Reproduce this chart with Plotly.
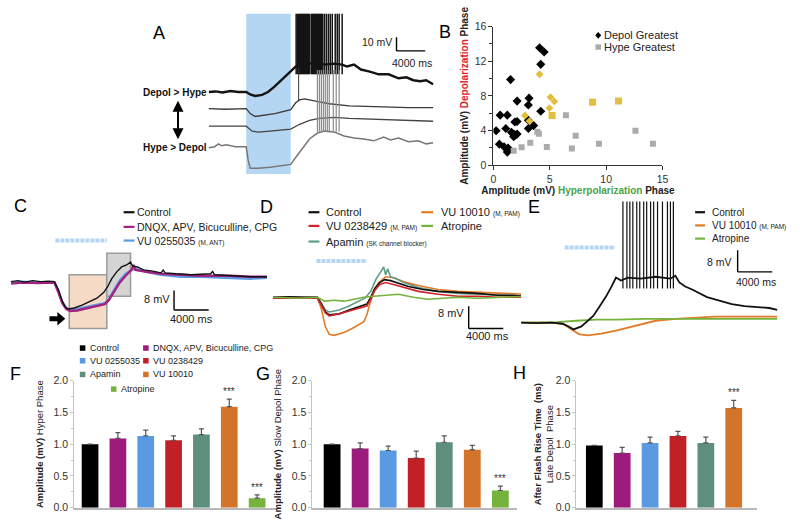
import plotly.graph_objects as go

W, H = 800, 530
FONT = "Liberation Sans, Arial, Helvetica, sans-serif"

# ======================= DATA =======================
# ---- Panel A: example recordings (time ms, mV relative to resting level) ----
a_stim_on, a_stim_off = 5240, 11446
a1_t = [0, 965, 1930, 3034, 4137, 5240, 5792, 6481, 7447, 8274, 9101, 9929, 10756, 11446, 12135,
        13376, 14755, 16134, 17513, 18617, 19306, 20270, 21236, 22340, 23719, 25098, 26477, 27580,
        28546, 29512, 30340, 31300]
a1_v = [0, 0.4, -0.4, 0.7, 0, 0, -1.8, -2.9, -2.1, 0, 3.6, 7.9, 12.1, 15.7, 18.6, 20, 21.4, 20, 20.7,
        20, 18.6, 20, 16.4, 15, 12.9, 12.9, 10, 10.7, 8.6, 7.9, 8.6, 5.7]
a1_spikes = [12200, 12380, 12550, 12700, 12830, 12980, 13100, 13250, 13380, 13520, 13650, 13800,
             13930, 14100, 14340, 14480, 14620, 14760, 14900, 15040, 15170, 15300, 15450, 15600,
             15720, 15900, 16140, 16410, 16690, 16960, 17240, 17650, 17930, 18200, 18620]
a1_spike_base, a1_spike_peak = 13, 62

a2_t = [0, 2344, 5240, 5792, 6481, 7447, 9240, 11446, 12135, 12690, 13376, 14755, 16824, 19580,
        23720, 27860, 31300]
a2_v = [0, -0.4, 0, -3.6, -5.7, -5, -3.6, -0.7, 4.3, 6.4, 7.1, 5.7, 3.6, 2.1, 1.4, 0.7, 0.7]
a2_spikes = [12550]
a2_spike_base, a2_spike_peak = 6, 30

a3_t = [0, 5240, 6068, 6895, 8550, 11446, 12690, 14066, 15445, 17513, 19580, 23720, 27860, 31300]
a3_v = [0, 0, -3.6, -4.3, -3.6, -2.1, 1.4, 4.3, 5.7, 6.4, 5.7, 5, 4.3, 3.6]

a4_t = [0, 827, 1379, 1793, 2482, 3723, 5240, 5516, 5792, 6895, 8550, 10618, 11446, 12135, 13100,
        14066, 15170, 16134, 17513, 18892, 20270, 21650, 23030, 24410, 25370, 26477, 27856, 29235,
        30340, 31300]
a4_v = [-0.7, 0, 2.1, 0.7, 1.4, 0, 0, -10, -15.7, -15.7, -15, -13.6, -12.9, -7.9, -0.7, 5.7, 10,
        11.4, 10.7, 7.9, 6.4, 5.7, 4.3, 7.1, 5, 6.4, 3.6, 4.3, 2.1, 2.9]
a4_spikes = [15170, 15450, 15720, 16000, 16270, 16550, 16820, 17380, 17790, 18200]
a4_spike_base, a4_spike_peak = 11, 56

# ---- Panel B: amplitudes (mV) ----
b_depol_x = [4.1, 4.5, 4.2, 1.52, 3.16, 2.1, 3.1, 4.2, 0.6, 1.23, 3.1, 1.9, 2.1, 3.57, 3.1, 1.1,
             0.24, 1.6, 1.8, 2.1, 1.8, 1.9, 0.53, 0.94, 1.3, 1.4, 1.23]
b_depol_y = [13.55, 13.07, 11.64, 9.88, 7.74, 7.4, 6.95, 6.23, 5.78, 5.78, 5.2, 5.0, 5.05, 4.58,
             4.24, 4.24, 3.98, 3.8, 3.6, 3.6, 3.3, 3.5, 2.44, 2.14, 2.0, 1.8, 1.52]
b_depol_gold_x = [4.1, 5.06, 5.4, 4.97, 2.8, 3.2]
b_depol_gold_y = [10.5, 7.85, 7.36, 6.6, 5.74, 5.1]
b_hype_x = [6.43, 3.9, 4.03, 7.3, 12.6, 3.27, 2.5, 4.74, 6.96, 9.36, 14.15, 1.8]
b_hype_y = [5.78, 3.87, 3.64, 3.42, 3.98, 2.6, 2.07, 2.1, 1.95, 2.48, 2.48, 1.69]
b_hype_gold_x = [5.2, 8.8, 11.1]
b_hype_gold_y = [5.74, 7.28, 7.4]
b_series = ["Depol Greatest", "Hype Greatest"]

# ---- Panel C ----
c_stim = [5140, 11090]
c_ctrl_t = [0, 800, 1600, 2515, 3430, 4343, 5030, 5490, 5944, 6290, 6630, 7315, 8230, 9144, 9944,
            10744, 11200, 11660, 12230, 12800, 13370, 13830, 14060, 14630, 15320, 16230, 17370,
            17600, 17830, 19090, 20800, 23090, 23320, 23550, 25375, 27660, 29600]
c_ctrl_v = [0, 0.4, -0.2, 0.4, 0, 0.2, 0, -3.2, -8, -10.4, -11.2, -10.8, -9.6, -8, -6.8, -4.4, -2,
            1.2, 4, 6, 6.8, 8, 6.4, 6, 4.8, 4.4, 3.6, 4.8, 3.6, 3.2, 2.8, 3.2, 4.2, 2.8, 2.4, 2, 2]
c_dnqx_t = [0, 1370, 3090, 5030, 5490, 5944, 6400, 6860, 7660, 8800, 9944, 10860, 11315, 11890,
            12570, 13260, 13945, 14170, 14400, 15660, 17370, 19660, 21945, 25375, 27660, 29600]
c_dnqx_v = [-0.8, -0.4, -0.6, -0.4, -4.4, -8.8, -11.2, -12, -11.8, -10.8, -10, -9.2, -7.6, -4.4,
            -0.4, 2.4, 4.8, 6.8, 4.8, 4, 3.2, 2.8, 2.4, 2.4, 2, 2]
c_vu0255_t = [0, 1370, 3090, 5030, 5490, 5944, 6400, 6860, 7660, 8800, 9944, 10860, 11315, 11890,
              12570, 13260, 13945, 14520, 15660, 17370, 19660, 21945, 25375, 27660, 29600]
c_vu0255_v = [-0.4, 0, -0.4, -0.4, -4, -8.4, -10.8, -11.6, -11.2, -10.4, -9.6, -8.8, -7.2, -3.6,
              0.4, 3.2, 4.8, 5.2, 4, 2.8, 2, 2, 1.6, 1.2, 1.6]
c_hyper_window = [6744, 11087]
c_depol_window = [11087, 13830]
c_names = ["Control", "DNQX, APV, Bicuculline, CPG", "VU 0255035"]

# ---- Panel D ----
d_stim = [5030, 10860]
d_ctrl_t = [0, 1943, 3660, 5140, 5600, 6060, 6515, 7660, 8800, 9944, 10860, 11315, 11770, 12345,
            12915, 13600, 14515, 15660, 17370, 19090, 21370, 23660, 25950, 27660, 29375]
d_ctrl_v = [0, 0.2, 0, 0, -2.45, -5.25, -6.3, -5.95, -4.55, -3.5, -2.45, 0, 3.15, 5.25, 6.3, 5.95,
            4.9, 3.85, 2.8, 2.1, 1.75, 1.4, 0.7, 0.7, 0.35]
d_vu0238_t = [0, 1943, 5140, 5600, 6060, 6515, 7660, 8800, 9944, 10860, 11315, 11770, 12345, 13030,
              13945, 15090, 16800, 19090, 21370, 23660, 25950, 29375]
d_vu0238_v = [-0.35, -0.35, -0.35, -2.8, -5.6, -6.65, -5.95, -4.9, -3.85, -3.15, -0.7, 2.45, 4.55,
              5.25, 4.55, 3.5, 2.1, 1.05, 0.35, 0.35, 0, 0]
d_apamin_t = [0, 5140, 5600, 6060, 6515, 7660, 8800, 9944, 10630, 11315, 11890, 12460, 12800, 13030,
              13260, 13600, 14290, 15090, 16800, 19090, 21370, 23660, 25950, 29375]
d_apamin_v = [0, 0, -2.1, -4.55, -5.25, -4.55, -3.15, -1.4, -0.35, 2.1, 6.3, 9.1, 10.85, 8.05, 10.15,
              7.35, 6.65, 5.25, 3.5, 2.1, 1.4, 1.05, 0.7, 0.35]
d_vu10010_t = [0, 5140, 5600, 6060, 6515, 7090, 8230, 9370, 10515, 10860, 11200, 11660, 12230,
               13030, 13945, 15090, 16800, 19090, 21370, 23660, 25950, 29375]
d_vu10010_v = [0, 0, -4.2, -10.5, -13.3, -13.65, -12.6, -10.85, -8.75, -6.3, -2.45, 2.1, 5.25, 7.35,
               7, 5.6, 4.2, 2.8, 2.1, 1.75, 1.4, 1.05]
d_atropine_t = [0, 3090, 5140, 5945, 7090, 8230, 9370, 10515, 11660, 13370, 14515, 16230, 17940,
                19660, 21370, 23660, 25950, 29375]
d_atropine_v = [0, -0.35, 0, -1.4, -1.05, -1.4, -0.7, 0, 0.35, 0.7, 1.05, 0, -0.7, -0.35, 0, -0.35,
                0, 0.35]

# ---- Panel E ----
e_stim = [5030, 10860]
e_ctrl_t = [0, 1830, 3540, 4800, 5490, 6060, 6970, 7770, 8340, 9030, 9830, 10400, 10970, 11540,
            12340, 13830, 15540, 17260, 17830, 18290, 18970, 19770, 20460, 21490, 22400, 24350,
            25830, 27540, 28690, 29600]
e_ctrl_v = [0, -0.2, 0, -0.4, -1.4, -2.5, -1.4, 0.7, 2.5, 5.8, 9.7, 13, 16.6, 15.5, 16.6, 16.2, 16.9,
            16.2, 17.3, 14.8, 13.3, 12.2, 11.2, 9.4, 8.6, 6.8, 6.1, 5.8, 5.4, 4.7]
e_spikes = [11770, 12230, 12570, 12915, 13370, 13715, 14170, 14515, 14970, 15320, 15770, 16340,
            16915, 17260, 17600]
e_spike_base, e_spike_peak = 12.6, 60
e_vu10010_t = [0, 3540, 4800, 5830, 6740, 7770, 9260, 10970, 13260, 15540, 17830, 20120, 22400,
               25830, 29600]
e_vu10010_v = [0, 0, -0.4, -2.5, -4.3, -4.7, -4, -2.9, -1.1, 0.7, 1.4, 1.8, 2.2, 2.2, 2.2]
e_atropine_t = [0, 4115, 6400, 8690, 10970, 14400, 17830, 22400, 25830, 29600]
e_atropine_v = [0, 0.2, 0.7, 1.1, 1.1, 1.4, 1.4, 1.4, 1.4, 1.4]

# ---- Panels F, G, H: normalised group data ----
groups = ["Control", "DNQX, APV, Bicuculline, CPG", "VU 0255035", "VU 0238429", "Apamin",
          "VU 10010", "Atropine"]
f_vals = [1.0, 1.09, 1.13, 1.06, 1.15, 1.59, 0.15]
f_err = [0, 0.09, 0.09, 0.07, 0.09, 0.12, 0.05]
f_sig = ["", "", "", "", "", "***", "***"]
g_vals = [1.0, 0.93, 0.90, 0.78, 1.03, 0.91, 0.27]
g_err = [0, 0.09, 0.07, 0.11, 0.10, 0.07, 0.07]
g_sig = ["", "", "", "", "", "", "***"]
h_vals = [0.98, 0.86, 1.02, 1.13, 1.02, 1.57]
h_err = [0, 0.09, 0.09, 0.07, 0.09, 0.12]
h_sig = ["", "", "", "", "", "***"]

# scale bar sizes
scale_ms = 4000
a_scale_mv = 10
cde_scale_mv = 8

# ======================= STYLE =======================
BLACK = "#111111"
MAG = "#A3227F"
BLUE = "#5B9BE6"
RED = "#D0222B"
TEAL = "#5F9A86"
ORANGE = "#E27B27"
GREEN = "#74B43C"
GOLD = "#E2BD3E"
GRAY = "#ABABAB"
STIM = "#B4D6F2"
bar_colors = ["#000000", "#9C1B7D", "#5A9AE3", "#C22027", "#5E8E7C", "#D4742B", "#74B43C"]


def X(px):
    return px / W


def Y(py):
    return 1 - py / H


def xdom(a, b):
    return [a / W, b / W]


def ydom(top, bot):
    return [1 - bot / H, 1 - top / H]


def spike_xy(times, base, peak, off=0):
    xs, ys = [], []
    for t in times:
        xs += [t, t, None]
        ys += [base + off, peak + off, None]
    return xs, ys


fig = go.Figure()


def line(x, y, color, width, xa, ya, name=None):
    fig.add_trace(go.Scatter(x=x, y=y, mode="lines", line=dict(color=color, width=width),
                             xaxis=xa, yaxis=ya, showlegend=False, name=name, hoverinfo="skip"))


# ---- A ----
a_off = [60, 47.8, 35, 20]
line(a1_t, [v + a_off[0] for v in a1_v], "#141414", 2.4, "x", "y", "Depol > Hype")
sx, sy = spike_xy(a1_spikes, a1_spike_base, a1_spike_peak, a_off[0])
line(sx, sy, "#141414", 1.5, "x", "y")
line(a2_t, [v + a_off[1] for v in a2_v], "#3a3a3a", 1.3, "x", "y")
sx, sy = spike_xy(a2_spikes, a2_spike_base, a2_spike_peak, a_off[1])
line(sx, sy, "#3a3a3a", 1.0, "x", "y")
line(a3_t, [v + a_off[2] for v in a3_v], "#444444", 1.3, "x", "y")
line(a4_t, [v + a_off[3] for v in a4_v], "#777777", 1.5, "x", "y", "Hype > Depol")
sx, sy = spike_xy(a4_spikes, a4_spike_base, a4_spike_peak, a_off[3])
line(sx, sy, "#8a8a8a", 1.2, "x", "y")

# ---- B ----
fig.add_trace(go.Scatter(x=b_depol_x, y=b_depol_y, mode="markers", name=b_series[0],
                         marker=dict(symbol="diamond", size=7, color="#000000"),
                         xaxis="x2", yaxis="y2", showlegend=False))
fig.add_trace(go.Scatter(x=b_hype_x, y=b_hype_y, mode="markers", name=b_series[1],
                         marker=dict(symbol="square", size=6, color=GRAY),
                         xaxis="x2", yaxis="y2", showlegend=False))
fig.add_trace(go.Scatter(x=b_depol_gold_x, y=b_depol_gold_y, mode="markers", name=b_series[0],
                         marker=dict(symbol="diamond", size=6, color=GOLD),
                         xaxis="x2", yaxis="y2", showlegend=False))
fig.add_trace(go.Scatter(x=b_hype_gold_x, y=b_hype_gold_y, mode="markers", name=b_series[1],
                         marker=dict(symbol="square", size=7, color=GOLD),
                         xaxis="x2", yaxis="y2", showlegend=False))

# ---- C ----
line(c_vu0255_t, c_vu0255_v, BLUE, 2.4, "x3", "y3", c_names[2])
line(c_dnqx_t, c_dnqx_v, MAG, 2.4, "x3", "y3", c_names[1])
line(c_ctrl_t, c_ctrl_v, BLACK, 1.4, "x3", "y3", c_names[0])

# ---- D ----
line(d_vu10010_t, d_vu10010_v, ORANGE, 1.6, "x4", "y4", "VU 10010")
line(d_apamin_t, d_apamin_v, TEAL, 1.6, "x4", "y4", "Apamin")
line(d_ctrl_t, d_ctrl_v, BLACK, 1.6, "x4", "y4", "Control")
line(d_vu0238_t, d_vu0238_v, RED, 1.6, "x4", "y4", "VU 0238429")
line(d_atropine_t, d_atropine_v, GREEN, 1.6, "x4", "y4", "Atropine")

# ---- E ----
line(e_vu10010_t, e_vu10010_v, ORANGE, 1.8, "x5", "y5", "VU 10010")
line(e_atropine_t, e_atropine_v, GREEN, 1.8, "x5", "y5", "Atropine")
line(e_ctrl_t, e_ctrl_v, BLACK, 1.8, "x5", "y5", "Control")
sx, sy = spike_xy(e_spikes, e_spike_base, e_spike_peak)
line(sx, sy, BLACK, 1.2, "x5", "y5")

# ---- F, G, H bars ----
annotations = []
for vals, errs, sig, xa, ya in [(f_vals, f_err, f_sig, "x6", "y6"),
                                (g_vals, g_err, g_sig, "x7", "y7"),
                                (h_vals, h_err, h_sig, "x8", "y8")]:
    for i in range(len(vals)):
        fig.add_trace(go.Bar(x=[i], y=[vals[i]], width=0.6, name=groups[i],
                             marker=dict(color=bar_colors[i], line=dict(width=0)),
                             error_y=dict(type="data", symmetric=False, array=[errs[i]],
                                          arrayminus=[0], color="#555555", thickness=1.2, width=2.5),
                             xaxis=xa, yaxis=ya, showlegend=False))
        if sig[i]:
            annotations.append(dict(x=i, y=vals[i] + errs[i], xref=xa, yref=ya, text=sig[i],
                                    showarrow=False, yanchor="bottom", font=dict(size=10, color="#333")))

# ======================= SHAPES & TEXT =======================
shapes = []
# A stim window
shapes.append(dict(type="rect", xref="x", yref="y domain", x0=a_stim_on, x1=a_stim_off, y0=0, y1=1,
                   fillcolor=STIM, line=dict(width=0), layer="below"))
# C analysis windows
shapes.append(dict(type="rect", xref="x3", yref="y3", x0=c_hyper_window[0], x1=c_hyper_window[1],
                   y0=-19.2, y1=2.8, fillcolor="#F5DAC6", line=dict(color="#9a9a9a", width=1.5),
                   layer="below"))
shapes.append(dict(type="rect", xref="x3", yref="y3", x0=c_depol_window[0], x1=c_depol_window[1],
                   y0=-6.0, y1=11.6, fillcolor="#D4D4D4", line=dict(color="#9a9a9a", width=1.5),
                   layer="below"))
# stim bars C, D, E
for (xa, ya, st, yv) in [("x3", "y3", c_stim, 16.8), ("x4", "y4", d_stim, 12.95),
                         ("x5", "y5", e_stim, 27.7)]:
    shapes.append(dict(type="line", xref=xa, yref=ya, x0=st[0], x1=st[1], y0=yv, y1=yv,
                       line=dict(color=STIM, width=4, dash="4px,1px")))


def scalebar(xa, ya, x0, y0, mv):
    shapes.append(dict(type="line", xref=xa, yref=ya, x0=x0, x1=x0, y0=y0, y1=y0 + mv,
                       line=dict(color="#000", width=1.4)))
    shapes.append(dict(type="line", xref=xa, yref=ya, x0=x0, x1=x0 + scale_ms, y0=y0, y1=y0,
                       line=dict(color="#000", width=1.4)))


scalebar("x", "y", 26200, 90, a_scale_mv)
scalebar("x3", "y3", 18860, -11.6, cde_scale_mv)
scalebar("x4", "y4", 22630, -11.2, cde_scale_mv)
scalebar("x5", "y5", 25030, 18.7, cde_scale_mv)


def txt(x, y, s, size=10.5, xa="paper", ya="paper", anchor="left", color="#222", **kw):
    annotations.append(dict(x=x, y=y, xref=xa, yref=ya, text=s, showarrow=False, xanchor=anchor,
                            yanchor="middle", font=dict(size=size, color=color), **kw))


# scale bar labels
txt(25900, 96.5, f"{a_scale_mv} mV", 10.5, "x", "y", "right")
txt(28300, 81.5, f"{scale_ms} ms", 10.5, "x", "y", "center")
txt(18600, -7.0, f"{cde_scale_mv} mV", 11, "x3", "y3", "right")
txt(20900, -15.4, f"{scale_ms} ms", 11, "x3", "y3", "center")
txt(22300, -5.6, f"{cde_scale_mv} mV", 11, "x4", "y4", "right")
txt(24800, -14.0, f"{scale_ms} ms", 11, "x4", "y4", "center")
txt(24600, 22.3, f"{cde_scale_mv} mV", 10.5, "x5", "y5", "right")
txt(27100, 15.1, f"{scale_ms} ms", 10.5, "x5", "y5", "center")

# panel letters
for L, px, py in [("A", 158, 28), ("B", 447, 27), ("C", 18, 205), ("D", 267, 206), ("E", 537, 206),
                  ("F", 13, 377), ("G", 263, 377), ("H", 522, 376)]:
    txt(X(px), Y(py), L, 18, anchor="center", color="#000")

# A labels + arrow
txt(X(208), Y(88), "<b>Depol > Hype</b>", 10, anchor="right", color="#111")
txt(X(208), Y(145), "<b>Hype > Depol</b>", 10, anchor="right", color="#111")
annotations.append(dict(x=X(177), y=Y(97), xref="paper", yref="paper", ax=0, ay=40, text="",
                        showarrow=True, arrowhead=2, arrowside="end+start", arrowsize=1.1,
                        arrowwidth=2, arrowcolor="#000"))

# C block arrow
pts = [(47, 317.5), (55, 317.5), (55, 313), (63, 320), (55, 327), (55, 322.5), (47, 322.5)]
path = "M " + " L ".join(f"{X(a):.5f},{Y(b):.5f}" for a, b in pts) + " Z"
shapes.append(dict(type="path", xref="paper", yref="paper", path=path, fillcolor="#000",
                   line=dict(width=0)))


def leg_line(x0, x1, xt, py, color, label, size=10.5):
    shapes.append(dict(type="line", xref="paper", yref="paper", x0=X(x0), x1=X(x1), y0=Y(py),
                       y1=Y(py), line=dict(color=color, width=2.2)))
    txt(X(xt), Y(py), label, size)


small = "<span style='font-size:6.5px'>{}</span>"
# C legend
leg_line(122, 133, 133.5, 211, BLACK, c_names[0])
leg_line(122, 133, 133.5, 226, MAG, c_names[1])
leg_line(122, 133, 133.5, 240, BLUE, c_names[2] + " " + small.format("(M, ANT)"))
# D legend
leg_line(309, 320, 325, 211, BLACK, "Control", 11)
leg_line(309, 320, 325, 225, RED, "VU 0238429 " + small.format("(M, PAM)"), 11)
leg_line(309, 320, 325, 241, TEAL, "Apamin " + small.format("(SK channel blocker)"), 11)
leg_line(423, 435, 441, 211, ORANGE, "VU 10010 " + small.format("(M, PAM)"), 11)
leg_line(423, 435, 441, 225, GREEN, "Atropine", 11)
# E legend
leg_line(700, 710, 715, 211, BLACK, "Control", 10)
leg_line(700, 710, 715, 224.5, ORANGE, "VU 10010 " + small.format("(M, PAM)"), 10)
leg_line(700, 710, 715, 238, GREEN, "Atropine", 10)


# F legend (squares)
def leg_sq(cx, py, xt, color, label):
    shapes.append(dict(type="rect", xref="paper", yref="paper", x0=X(cx - 2.8), x1=X(cx + 2.8),
                       y0=Y(py + 2.8), y1=Y(py - 2.8), fillcolor=color, line=dict(width=0)))
    txt(X(xt), Y(py), label, 9)


rows = [350, 363, 377]
for k, gi in enumerate([0, 2, 4]):
    leg_sq(80.5, rows[k], 86, bar_colors[gi], groups[gi])
for k, gi in enumerate([1, 3, 5]):
    leg_sq(144.5, rows[k], 150, bar_colors[gi], groups[gi])
leg_sq(112, 392, 117, bar_colors[6], groups[6])

# B legend
bx = 602
dpath = (f"M {X(bx - 3):.5f},{Y(30):.5f} L {X(bx):.5f},{Y(26.5):.5f} L {X(bx + 3):.5f},{Y(30):.5f} "
         f"L {X(bx):.5f},{Y(33.5):.5f} Z")
shapes.append(dict(type="path", xref="paper", yref="paper", path=dpath, fillcolor="#000",
                   line=dict(width=0)))
shapes.append(dict(type="rect", xref="paper", yref="paper", x0=X(bx - 2.8), x1=X(bx + 2.8),
                   y0=Y(44.8), y1=Y(39.2), fillcolor=GRAY, line=dict(width=0)))
txt(X(606), Y(30), b_series[0], 11)
txt(X(606), Y(42), b_series[1], 11)

# ======================= AXES =======================


def hidden(dom, rng, anchor):
    return dict(domain=dom, range=rng, visible=False, fixedrange=True, anchor=anchor,
                showgrid=False, zeroline=False)


tickf = dict(size=10.5, color="#333", family=FONT)


def bar_y(dom, title, anchor, standoff):
    return dict(domain=dom, range=[0, 2], dtick=0.5, tickformat=".1f", anchor=anchor,
                showline=True, linecolor="#c4c4c4", linewidth=1, ticks="outside", ticklen=3,
                tickcolor="#c4c4c4", minor=dict(dtick=0.25, ticks="outside", ticklen=2,
                                                  tickcolor="#c4c4c4"),
                showgrid=False, zeroline=False, tickfont=tickf,
                title=dict(text=title, font=dict(size=9.5, color="#222222"), standoff=standoff))


def bar_x(dom, rng, anchor):
    return dict(domain=dom, range=rng, anchor=anchor, showline=True, linecolor="#b8b8b8",
                linewidth=2, showticklabels=False, ticks="", showgrid=False, zeroline=False)


fig.update_layout(
    width=W, height=H, margin=dict(l=0, r=0, t=0, b=0),
    paper_bgcolor="white", plot_bgcolor="white",
    font=dict(family=FONT, color="#222"),
    barmode="overlay", showlegend=False,
    xaxis=hidden(xdom(208, 436), [0, 31440], "y"),
    yaxis=hidden(ydom(8, 172), [0, 117.1], "x"),
    xaxis2=dict(domain=xdom(496, 667), range=[0, 15], dtick=5, anchor="y2", showline=True,
                linecolor="#333", ticks="outside", ticklen=4, tickcolor="#333", tickfont=tickf,
                showgrid=False, zeroline=False,
                title=dict(text="<b>Amplitude (mV) <span style='color:#4DA343'>Hyperpolarization</span> Phase</b>",
                           font=dict(size=10, color="#222"), standoff=3)),
    yaxis2=dict(domain=ydom(21, 163), range=[0, 16], dtick=4, anchor="x2", showline=True,
                linecolor="#333", ticks="outside", ticklen=4, tickcolor="#333", tickfont=tickf,
                minor=dict(dtick=2, ticks="outside", ticklen=3, tickcolor="#333"),
                showgrid=False, zeroline=False,
                title=dict(text="<b>Amplitude (mV) <span style='color:#E3202A'>Depolarization</span> Phase</b>",
                           font=dict(size=10, color="#222"), standoff=4)),
    xaxis3=hidden(xdom(8, 268), [0, 29720], "y3"),
    yaxis3=hidden(ydom(230, 335), [-21.2, 20.8], "x3"),
    xaxis4=hidden(xdom(273, 531), [0, 29490], "y4"),
    yaxis4=hidden(ydom(255, 345), [-16.45, 15.05], "x4"),
    xaxis5=hidden(xdom(524, 785), [0, 29830], "y5"),
    yaxis5=hidden(ydom(200, 345), [-7.56, 44.64], "x5"),
    xaxis6=bar_x(xdom(72, 277), [-0.57, 6.71], "y6"),
    yaxis6=bar_y(ydom(383.3, 513.3), "<b>Amplitude (mV)</b> Hyper Phase", "x6", 8),
    xaxis7=bar_x(xdom(313, 520), [-0.7, 6.6], "y7"),
    yaxis7=bar_y(ydom(383.3, 513.3), "<b>Amplitude (mV)</b> Slow Depol Phase", "x7", 8),
    xaxis8=bar_x(xdom(580, 763), [-0.64, 5.85], "y8"),
    yaxis8=bar_y(ydom(383.3, 513.3),
                 "<b>After Flash Rise Time  (ms)</b><br><span style='color:#222222'>Late Depol  Phase</span>",
                 "x8", 0),
    shapes=shapes,
    annotations=annotations,
)

fig.write_html("out.html", config={"displayModeBar": False},
               post_script="document.body.style.margin='0';")
